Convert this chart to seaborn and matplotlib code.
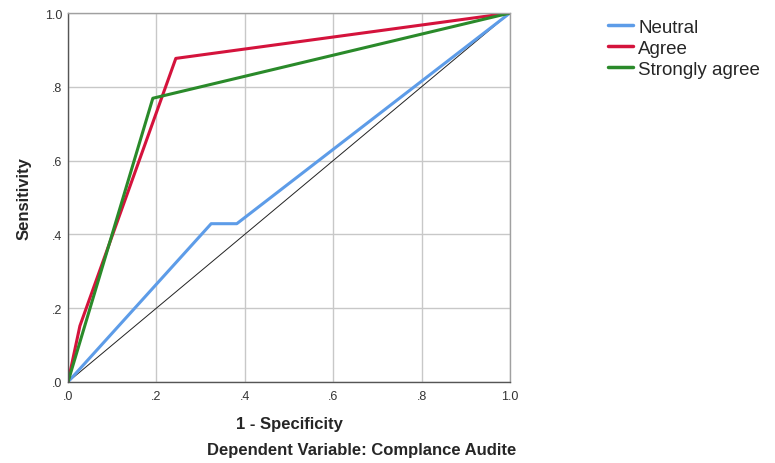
import pandas as pd
import matplotlib
matplotlib.use("Agg")
import matplotlib.pyplot as plt
import seaborn as sns

# ROC curve points
neutral_x = [0.0, 0.324, 0.382, 1.0]
neutral_y = [0.0, 0.429, 0.429, 1.0]
agree_x = [0.0, 0.027, 0.244, 1.0]
agree_y = [0.0, 0.152, 0.877, 1.0]
strong_x = [0.0, 0.192, 1.0]
strong_y = [0.0, 0.769, 1.0]
ref_line = [0.0, 1.0]

series = ["Neutral", "Agree", "Strongly agree"]
colors = ["#5d9ce8", "#d4133c", "#2a8a2a"]
ticks = [0.0, 0.2, 0.4, 0.6, 0.8, 1.0]
tick_labels = [".0", ".2", ".4", ".6", ".8", "1.0"]

sns.set_style("white")
plt.rcParams['font.family'] = ['Liberation Sans', 'DejaVu Sans']

df = pd.concat([
    pd.DataFrame({"x": neutral_x, "y": neutral_y, "group": "Neutral"}),
    pd.DataFrame({"x": agree_x, "y": agree_y, "group": "Agree"}),
    pd.DataFrame({"x": strong_x, "y": strong_y, "group": "Strongly agree"}),
], ignore_index=True)

fig = plt.figure(figsize=(7.75, 4.64), dpi=100)
ax = fig.add_axes([0.0877, 0.1746, 0.5703, 0.7952])

# grid first so curves sit on top
for t in ticks:
    ax.axvline(t, color="#c8c8c8", lw=1.0, zorder=0)
    ax.axhline(t, color="#c8c8c8", lw=1.0, zorder=0)

ax.plot(ref_line, ref_line, color="#222222", lw=0.7, zorder=1)

sns.lineplot(data=df, x="x", y="y", hue="group", hue_order=series,
             palette=dict(zip(series, colors)), sort=False, estimator=None,
             lw=2.2, ax=ax, zorder=2)

ax.set_xlim(0, 1)
ax.set_ylim(0, 1)
ax.set_xticks(ticks)
ax.set_xticklabels(tick_labels)
ax.set_yticks(ticks)
ax.set_yticklabels(tick_labels)
ax.tick_params(length=0, labelsize=9, colors="#333333")
ax.tick_params(axis="x", pad=6)
ax.tick_params(axis="y", pad=4)
for s in ax.spines.values():
    s.set_color("#a0a0a0")
    s.set_linewidth(1.0)
ax.spines["left"].set_color("#555555")
ax.spines["bottom"].set_color("#555555")

ax.set_xlabel("1 - Specificity", fontsize=12, fontweight="bold", labelpad=10)
ax.set_ylabel("Sensitivity", fontsize=12, fontweight="bold", labelpad=10)

leg = ax.legend(loc="upper left", bbox_to_anchor=(1.205, 1.005), frameon=False,
                fontsize=13.5, handlelength=1.35, handletextpad=0.25,
                labelspacing=0.2, borderaxespad=0.0)
for line in leg.get_lines():
    line.set_linewidth(2.5)

fig.text(0.467, 0.012, "Dependent Variable: Complance Audite", ha="center",
         va="bottom", fontsize=12, fontweight="bold")

plt.savefig("out.png", dpi=100)
